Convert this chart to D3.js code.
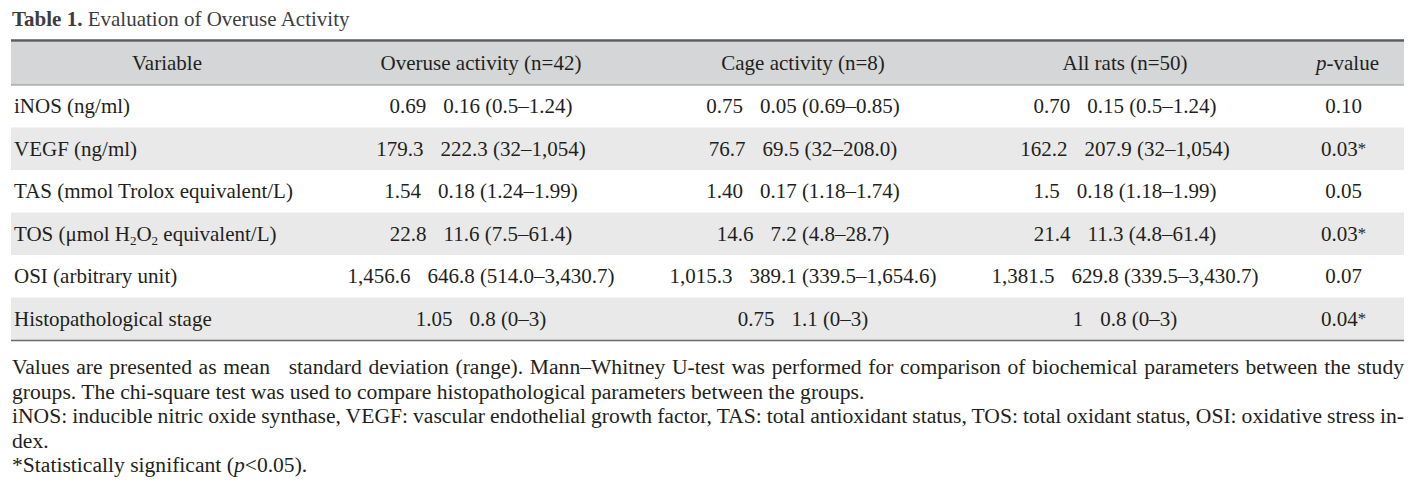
<!DOCTYPE html>
<html>
<head>
<meta charset="utf-8">
<script src="https://cdn.jsdelivr.net/npm/d3@7"></script>
<style>
  html, body { margin: 0; padding: 0; background: #ffffff; }
  svg { display: block; }
  text { font-family: "Liberation Serif", "DejaVu Serif", serif; fill: #231f20; }
</style>
</head>
<body>
<svg id="chart" width="1424" height="504"></svg>
<script>
// ---------- data ----------
const titleBold = "Table 1.";
const titleText = " Evaluation of Overuse Activity";
const headers = ["Variable", "Overuse activity (n=42)", "Cage activity (n=8)", "All rats (n=50)", "p-value"];
const variables = [
  "iNOS (ng/ml)",
  "VEGF (ng/ml)",
  "TAS (mmol Trolox equivalent/L)",
  "TOS (μmol H_2O_2 equivalent/L)",
  "OSI (arbitrary unit)",
  "Histopathological stage"
];
const overuseMean  = ["0.69", "179.3", "1.54", "22.8", "1,456.6", "1.05"];
const overuseSD    = ["0.16", "222.3", "0.18", "11.6", "646.8", "0.8"];
const overuseRange = ["0.5–1.24", "32–1,054", "1.24–1.99", "7.5–61.4", "514.0–3,430.7", "0–3"];
const cageMean     = ["0.75", "76.7", "1.40", "14.6", "1,015.3", "0.75"];
const cageSD       = ["0.05", "69.5", "0.17", "7.2", "389.1", "1.1"];
const cageRange    = ["0.69–0.85", "32–208.0", "1.18–1.74", "4.8–28.7", "339.5–1,654.6", "0–3"];
const allMean      = ["0.70", "162.2", "1.5", "21.4", "1,381.5", "1"];
const allSD        = ["0.15", "207.9", "0.18", "11.3", "629.8", "0.8"];
const allRange     = ["0.5–1.24", "32–1,054", "1.18–1.99", "4.8–61.4", "339.5–3,430.7", "0–3"];
const pValues      = ["0.10", "0.03*", "0.05", "0.03*", "0.07", "0.04*"];
const footLine1a = "Values are presented as mean";
const footLine1b = "standard deviation (range). Mann–Whitney U-test was performed for comparison of biochemical parameters between the study";
const footLine2 = "groups. The chi-square test was used to compare histopathological parameters between the groups.";
const footLine3 = "iNOS: inducible nitric oxide synthase, VEGF: vascular endothelial growth factor, TAS: total antioxidant status, TOS: total oxidant status, OSI: oxidative stress in-";
const footLine4 = "dex.";
const footLine5 = ["*Statistically significant (", "p", "<0.05)."];

// ---------- layout ----------
const FS = 21;
const left = 11, right = 1404;
const colEdges = [11, 323, 639, 967, 1283, 1404];
const headerTop = 42, headerBottom = 85, bodyBottom = 340;

const svg = d3.select("#chart");

const groups = [
  {mean: overuseMean, sd: overuseSD, range: overuseRange},
  {mean: cageMean, sd: cageSD, range: cageRange},
  {mean: allMean, sd: allSD, range: allRange}
];

const colScale = d3.scaleOrdinal().domain(d3.range(headers.length))
  .range(d3.range(headers.length).map(i => (colEdges[i] + colEdges[i + 1]) / 2));

const rowScale = d3.scaleBand().domain(d3.range(variables.length))
  .range([headerBottom, bodyBottom]).padding(0);

// title
const title = svg.append("text").attr("x", 12).attr("y", 26)
  .style("font-size", FS + "px");
title.append("tspan").attr("font-weight", "bold").style("fill", "#3d3d3f").text(titleBold);
title.append("tspan").style("fill", "#3d3d3f").text(titleText);

// header background & stripes
svg.append("rect").attr("x", left).attr("y", headerTop)
  .attr("width", right - left).attr("height", headerBottom - headerTop)
  .attr("fill", "#d5d6d8");
svg.selectAll("rect.stripe").data(d3.range(variables.length).filter(i => i % 2 === 1))
  .join("rect").attr("class", "stripe")
  .attr("x", left).attr("width", right - left)
  .attr("y", i => rowScale(i)).attr("height", rowScale.bandwidth())
  .attr("fill", "#e9e9ea");

// rules
svg.append("line").attr("x1", left).attr("x2", right).attr("y1", 40.5).attr("y2", 40.5)
  .attr("stroke", "#5b5b5d").attr("stroke-width", 2.5);
svg.append("line").attr("x1", left).attr("x2", right).attr("y1", headerBottom).attr("y2", headerBottom)
  .attr("stroke", "#8d8d8f").attr("stroke-width", 1.2);
svg.append("line").attr("x1", left).attr("x2", right).attr("y1", bodyBottom + 0.5).attr("y2", bodyBottom + 0.5)
  .attr("stroke", "#6b6b6d").attr("stroke-width", 1.5);

const baseOff = FS * 0.33;

// header texts
svg.selectAll("text.hdr").data(headers).join("text").attr("class", "hdr")
  .attr("x", (d, i) => colScale(i) + (i === 4 ? 4 : 0)).attr("y", (headerTop + headerBottom) / 2 + baseOff)
  .attr("text-anchor", "middle").style("font-size", FS + "px")
  .each(function(d) {
    const t = d3.select(this);
    if (d === "p-value") {
      t.append("tspan").attr("font-style", "italic").text("p");
      t.append("tspan").text("-value");
    } else t.text(d);
  });

// variable column (with "_2" subscripts)
svg.selectAll("text.var").data(variables).join("text").attr("class", "var")
  .attr("x", 14).attr("y", (d, i) => rowScale(i) + rowScale.bandwidth() / 2 + baseOff)
  .style("font-size", FS + "px")
  .each(function(d) {
    const t = d3.select(this);
    const parts = d.split(/(_2)/).filter(p => p.length);
    let lowered = false;
    parts.forEach(p => {
      if (p === "_2") {
        t.append("tspan").attr("dy", lowered ? 0 : 4).style("font-size", (FS * 0.62) + "px").text("2");
        lowered = true;
      } else {
        t.append("tspan").attr("dy", lowered ? -4 : 0).text(p);
        lowered = false;
      }
    });
  });

// group value columns: mean [gap] sd (range)
groups.forEach((g, gi) => {
  svg.selectAll("text.g" + gi).data(d3.range(variables.length)).join("text").attr("class", "g" + gi)
    .attr("x", colScale(gi + 1))
    .attr("y", i => rowScale(i) + rowScale.bandwidth() / 2 + baseOff)
    .attr("text-anchor", "middle").style("font-size", FS + "px")
    .each(function(i) {
      const t = d3.select(this);
      t.append("tspan").text(g.mean[i]);
      t.append("tspan").attr("dx", 17).text(g.sd[i] + " (" + g.range[i] + ")");
    });
});

// p-values
svg.selectAll("text.pv").data(pValues).join("text").attr("class", "pv")
  .attr("x", colScale(4)).attr("y", (d, i) => rowScale(i) + rowScale.bandwidth() / 2 + baseOff)
  .attr("text-anchor", "middle").style("font-size", FS + "px")
  .each(function(d) {
    const t = d3.select(this);
    if (d.endsWith("*")) {
      t.append("tspan").text(d.slice(0, -1));
      t.append("tspan").style("font-size", (FS * 0.8) + "px").attr("dy", -2).text("*");
    } else t.text(d);
  });

// footnotes
const FFS = 21.6;
const lineY = [374, 398.5, 423, 447.5, 472];
function justify(sel, width, extra) {
  const node = sel.node();
  const natural = node.getComputedTextLength() + (extra || 0);
  const txt = node.textContent;
  const spaces = (txt.match(/ /g) || []).length;
  if (spaces > 0) sel.attr("word-spacing", (width - natural) / spaces);
}
const GAP = 12;
const f1 = svg.append("text").attr("x", 12).attr("y", lineY[0]).style("font-size", FFS + "px")
  .attr("xml:space", "preserve");
f1.append("tspan").text(footLine1a + " ");
f1.append("tspan").attr("dx", GAP).text(footLine1b);
justify(f1, right - 12, GAP);

svg.append("text").attr("x", 12).attr("y", lineY[1]).style("font-size", FFS + "px").text(footLine2);
const f3 = svg.append("text").attr("x", 12).attr("y", lineY[2]).style("font-size", FFS + "px").text(footLine3);
justify(f3, right - 12, 0);
svg.append("text").attr("x", 12).attr("y", lineY[3]).style("font-size", FFS + "px").text(footLine4);
const f5 = svg.append("text").attr("x", 12).attr("y", lineY[4]).style("font-size", FFS + "px");
f5.append("tspan").text(footLine5[0]);
f5.append("tspan").attr("font-style", "italic").text(footLine5[1]);
f5.append("tspan").text(footLine5[2]);
</script>
</body>
</html>
